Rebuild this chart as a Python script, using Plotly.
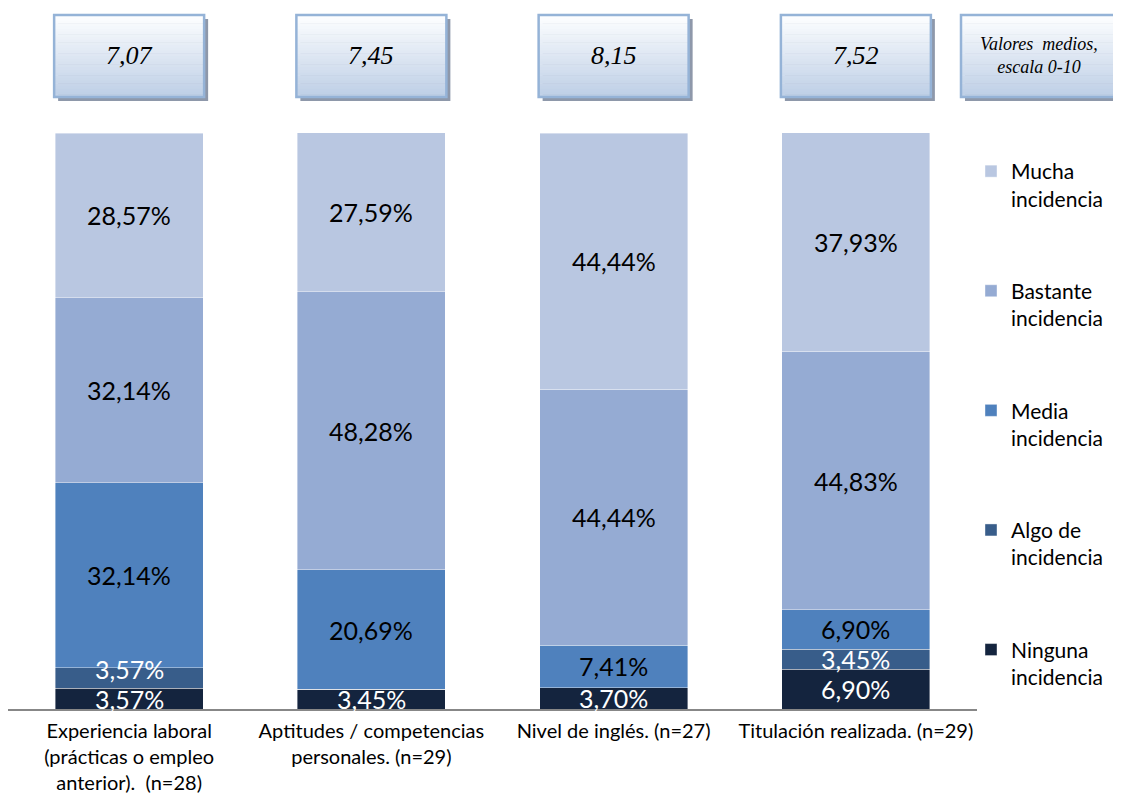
import plotly.graph_objects as go

categories = [
    "Experiencia laboral<br>(prácticas o empleo<br>anterior).  (n=28)",
    "Aptitudes / competencias<br>personales. (n=29)",
    "Nivel de inglés. (n=27)",
    "Titulación realizada. (n=29)",
]
ninguna = [3.57, 3.45, 3.70, 6.90]
algo = [3.57, 0.0, 0.0, 3.45]
media = [32.14, 20.69, 7.41, 6.90]
bastante = [32.14, 48.28, 44.44, 44.83]
mucha = [28.57, 27.59, 44.44, 37.93]
mean_values = ["7,07", "7,45", "8,15", "7,52"]
mean_header = "Valores  medios,<br>escala 0-10"

series = [
    ("Ninguna<br>incidencia", ninguna, "#14243e", "white"),
    ("Algo de<br>incidencia", algo, "#385d8a", "white"),
    ("Media<br>incidencia", media, "#4f81bd", "black"),
    ("Bastante<br>incidencia", bastante, "#95abd3", "black"),
    ("Mucha<br>incidencia", mucha, "#b9c7e1", "black"),
]

# page body has an 8px margin; work in page pixel coordinates and convert
OFF = 8
W, H = 1121 - OFF, 794 - OFF
plot_left, plot_right, plot_top, plot_bottom = 8, 977, 133, 709
L = plot_left - OFF
T = plot_top - OFF
R = (W + OFF) - plot_right
B = (H + OFF) - plot_bottom
pw, ph = plot_right - plot_left, plot_bottom - plot_top
cat_px = pw / 4.0

def yp(py):
    return (plot_bottom - py) / ph

def xp(px):
    return (px - plot_left) / pw

xs = list(range(len(categories)))
fig = go.Figure()
annotations = []
base = [0.0] * len(categories)
prev_center = [None] * len(categories)
MIN_GAP = 30  # px between stacked label centres
for k, (name, vals, color, tcolor) in enumerate(series):
    fig.add_trace(go.Bar(
        x=xs, y=vals, name=name,
        marker=dict(color=color, line=dict(width=0.8, color="rgba(255,255,255,0.5)")),
        width=0.61, legendgroup=f"g{k}", legendrank=100 - k, hoverinfo="skip",
    ))
    for i, v in enumerate(vals):
        if v > 0:
            c = base[i] + v / 2
            shift = 0
            if prev_center[i] is not None:
                d = (c - prev_center[i]) * ph / 100.0
                if d < MIN_GAP:
                    shift = MIN_GAP - d
            annotations.append(dict(
                x=i, y=c, xref="x", yref="y", yshift=shift,
                text=f"{v:.2f}".replace(".", ",") + "%", showarrow=False,
                font=dict(family="Lato", size=25, color=tcolor),
            ))
            prev_center[i] = c + shift * 100.0 / ph
        base[i] += v

shapes = []

def add_box(x0, x1, y0, y1, xref):
    dx = 4 / cat_px if xref == "x" else 4 / pw
    shapes.append(dict(type="rect", xref=xref, yref="paper", x0=x0 + dx, x1=x1 + dx,
                       y0=yp(y1 + 4), y1=yp(y0 + 4), fillcolor="#8e98aa",
                       line=dict(width=0), layer="above"))
    n = 30
    for s in range(n):
        t = s / (n - 1)
        r = round(253 + (190 - 253) * t)
        g = round(254 + (207 - 254) * t)
        b = round(255 + (230 - 255) * t)
        ya = y0 + (y1 - y0) * s / n
        yb = y0 + (y1 - y0) * (s + 1) / n
        shapes.append(dict(type="rect", xref=xref, yref="paper", x0=x0, x1=x1,
                           y0=yp(yb + 0.5), y1=yp(ya), fillcolor=f"rgb({r},{g},{b})",
                           line=dict(width=0), layer="above"))
    shapes.append(dict(type="rect", xref=xref, yref="paper", x0=x0, x1=x1,
                       y0=yp(y1), y1=yp(y0), line=dict(color="#95b3d7", width=2.5),
                       layer="above"))

half = 75 / cat_px
for i, v in enumerate(mean_values):
    add_box(i - half, i + half, 15, 97, "x")
    annotations.append(dict(x=i, y=yp(56), xref="x", yref="paper", xanchor="center",
                            yanchor="middle", text="<i>" + v + "</i>", showarrow=False,
                            font=dict(family="Liberation Serif", size=26, color="black")))
hx0, hx1 = xp(961), xp(1120)
add_box(hx0, hx1, 15, 97, "paper")
annotations.append(dict(x=xp(1039), y=yp(56), xref="paper", yref="paper",
                        xanchor="center", yanchor="middle",
                        text="<i>" + mean_header + "</i>", showarrow=False,
                        font=dict(family="Liberation Serif", size=18, color="black")))

fig.update_layout(
    barmode="stack",
    width=W, height=H,
    margin=dict(l=L, r=R, t=T, b=B, autoexpand=False),
    paper_bgcolor="white", plot_bgcolor="white",
    shapes=shapes, annotations=annotations,
    xaxis=dict(tickmode="array", tickvals=xs, ticktext=categories, range=[-0.5, 3.5],
               showline=True, linecolor="#878787", linewidth=1.5, ticks="", showgrid=False,
               ticklabelstandoff=3,
               tickfont=dict(family="Lato", size=20, color="black"), fixedrange=True),
    yaxis=dict(range=[0, 100], visible=False, fixedrange=True),
    legend=dict(x=xp(971), xanchor="left", y=yp(151), yanchor="top",
                traceorder="grouped", tracegroupgap=62, valign="top",
                font=dict(family="Lato", size=21, color="black"), bgcolor="rgba(0,0,0,0)"),
    showlegend=True,
)

fig.write_html("out.html")
